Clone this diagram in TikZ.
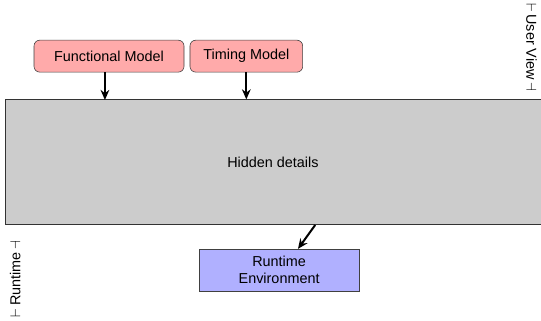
\documentclass[tikz,border=0pt]{standalone}
\usepackage{fontspec}
\setmainfont{Liberation Sans}
\usetikzlibrary{arrows.meta, positioning}

\definecolor{modelred}{RGB}{255,170,170}
\definecolor{envblue}{RGB}{176,176,255}
\definecolor{hiddengray}{RGB}{204,204,204}

\tikzset{
    model/.style={draw=black!75, fill=modelred, rounded corners=4pt,
        minimum height=0.78cm, font=\normalsize},
    runenv/.style={draw=black!75, fill=envblue, align=center,
        minimum width=3.9cm, minimum height=1.02cm},
    flow/.style={-{Stealth[length=7pt, width=6pt]}, line width=1.4pt},
    side label/.style={font=\normalsize, inner sep=1pt}
}

\begin{document}
\begin{tikzpicture}
    \useasboundingbox (0,0) rectangle (13.2,7.81);

    % the big box in the middle
    \node[draw=black!80, fill=hiddengray, minimum width=13.15cm, minimum height=3.05cm,
        anchor=south west] (hidden) at (0.12,2.32) {};
    \node at (6.66,3.86) (hiddentext) {Hidden details};

    % what the user supplies
    \node[model, minimum width=3.66cm] (functional) at (2.66,6.44) {Functional Model};
    \node[model, minimum width=2.75cm] (timing) at (6.01,6.44) {Timing Model};

    % what runs underneath
    \node[runenv] (runtime) at (6.81,1.22) {Runtime\\Environment};

    \coordinate (fin) at (2.56,5.37);
    \draw[flow] (functional.south -| fin) -- (fin);
    \draw[flow] (timing.south) -- (timing.south |- hidden.north);
    \coordinate (rout) at (7.69,2.32);
    \draw[flow] (rout) -- (runtime.north -| 7.27,0);

    % layer labels at the edges
    \node[side label, rotate=-90] (userview) at (12.97,6.66) {$\vdash$\,User View\,$\dashv$};
    \node[side label, rotate=90] (runtimeview) at (0.37,1.0) {$\vdash$\,Runtime\,$\dashv$};
\end{tikzpicture}
\end{document}
